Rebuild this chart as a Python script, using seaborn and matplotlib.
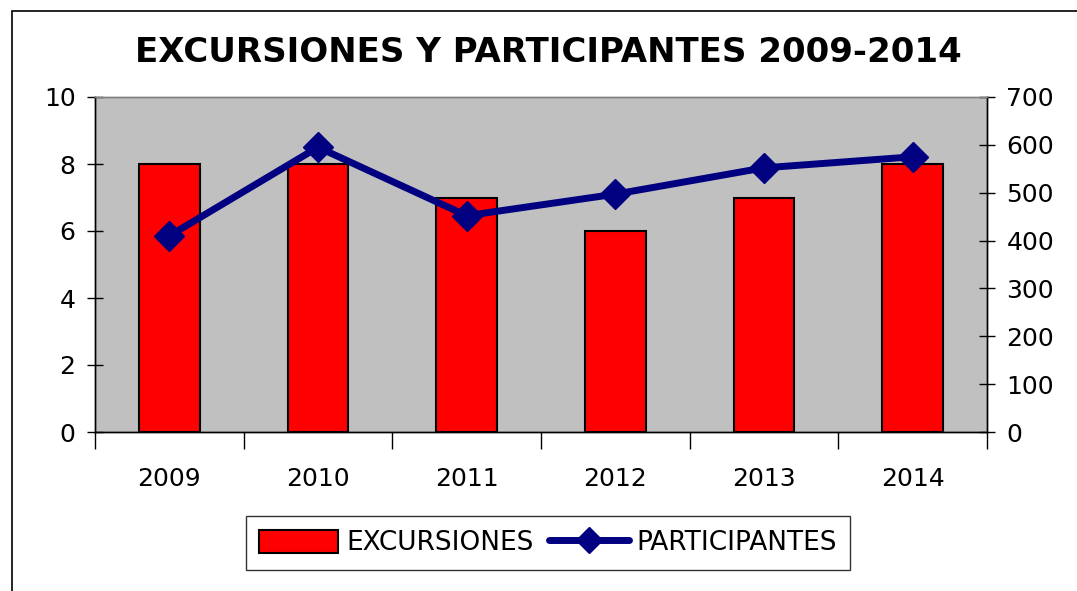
import numpy as np
import pandas as pd
import seaborn as sns
import matplotlib
matplotlib.use("Agg")
from matplotlib import pyplot as plt
from matplotlib.patches import Rectangle
from matplotlib.lines import Line2D
from matplotlib.patches import Patch

years = ["2009", "2010", "2011", "2012", "2013", "2014"]
excursiones = [8, 8, 7, 6, 7, 8]
participantes = [410, 595, 452, 497, 552, 575]

df = pd.DataFrame({"year": years, "excursiones": excursiones, "participantes": participantes})

sns.set_style("white")
plt.rcParams["font.family"] = ["DejaVu Sans"]
plt.rcParams["text.color"] = "black"
plt.rcParams["xtick.color"] = "black"
plt.rcParams["ytick.color"] = "black"

fig = plt.figure(figsize=(10.77, 5.91), dpi=100)
ax = fig.add_axes([95 / 1077, 1 - 432 / 591, 892 / 1077, 335 / 591])
ax.set_facecolor("#C0C0C0")

sns.barplot(data=df, x="year", y="excursiones", color="#FF0000", edgecolor="black",
            linewidth=1.5, width=0.41, saturation=1, ax=ax, zorder=2)
ax.set_xlim(-0.5, 5.5)
ax.set_ylim(0, 10)
ax.set_yticks([0, 2, 4, 6, 8, 10])
ax.set_xlabel("")
ax.set_ylabel("")
ax.tick_params(axis="y", direction="inout", length=12, width=1, labelsize=18, left=True, pad=8)
ax.set_xticks(np.arange(len(years)))
ax.set_xticklabels(years)
ax.tick_params(axis="x", which="major", length=0, labelsize=18, pad=25)
ax.set_xticks(np.arange(-0.5, len(years)), minor=True)
ax.tick_params(axis="x", which="minor", direction="out", length=12, width=1, bottom=True)

ax2 = ax.twinx()
ax2.plot(np.arange(len(years)), df["participantes"], color="#000080", linewidth=5,
         marker="D", markersize=15, zorder=3)
ax2.set_ylim(0, 700)
ax2.set_yticks(range(0, 701, 100))
ax2.tick_params(axis="y", direction="inout", length=12, width=1, labelsize=18, right=True, pad=8)

for a in (ax, ax2):
    for s in a.spines.values():
        s.set_color("#808080")
        s.set_linewidth(1)
    a.spines["left"].set_color("black")
    a.spines["right"].set_color("black")
    a.spines["bottom"].set_color("black")

fig.text(548 / 1077, 1 - 53 / 591, "EXCURSIONES Y PARTICIPANTES 2009-2014",
         ha="center", va="center", fontsize=24.5, fontweight="bold")

handles = [Patch(facecolor="#FF0000", edgecolor="black", linewidth=1.5),
           Line2D([0], [0], color="#000080", linewidth=5, marker="D", markersize=13)]
leg = fig.legend(handles, ["EXCURSIONES", "PARTICIPANTES"], loc="center",
                 bbox_to_anchor=(548 / 1077, 1 - 543 / 591), ncol=2, fontsize=19,
                 frameon=True, fancybox=False, edgecolor="black", handlelength=3.0,
                 handleheight=1.0, handletextpad=0.3, columnspacing=0.6, borderpad=0.5)
leg.get_frame().set_linewidth(1)

fig.patches.append(Rectangle((12 / 1077, -0.1), 1.2, 1 - 11 / 591 + 0.1, transform=fig.transFigure,
                             fill=False, edgecolor="black", linewidth=1.2))

fig.savefig("out.png", dpi=100)
